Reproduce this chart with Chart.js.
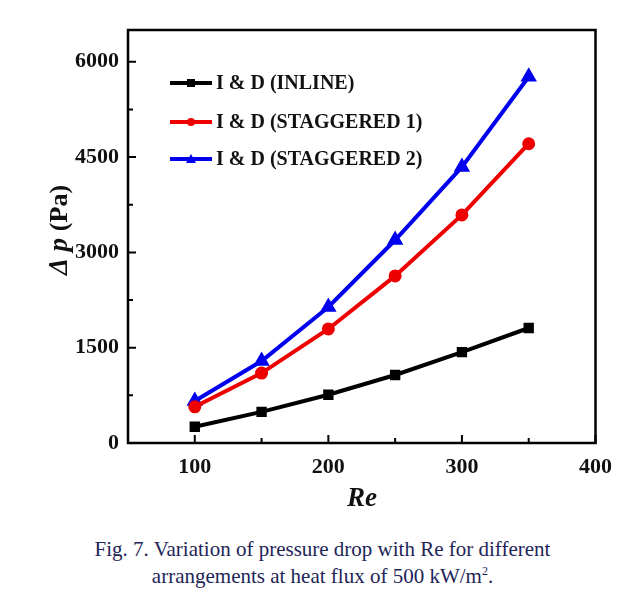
<!DOCTYPE html>
<html><head><meta charset="utf-8">
<script src="https://cdn.jsdelivr.net/npm/chart.js@4"></script>
<style>
html,body{margin:0;padding:0;background:#fff;width:623px;height:607px;overflow:hidden;}
#wrap{position:absolute;left:0;top:0;width:623px;height:525px;}
#cap{position:absolute;left:0;top:536px;width:645px;text-align:center;font-family:"Liberation Serif","Times New Roman",serif;font-size:21px;line-height:27px;color:#1e2558;}
sup{font-size:12px;line-height:0;vertical-align:8px;}
</style></head>
<body>
<div id="wrap"><canvas id="c" width="623" height="525"></canvas></div>
<div id="cap">Fig. 7. Variation of pressure drop with Re for different<br>arrangements at heat flux of 500 kW/m<sup>2</sup>.</div>
<script>
const reValues = [100, 150, 200, 250, 300, 350];
const inline = [255, 490, 760, 1070, 1430, 1810];
const staggered1 = [570, 1100, 1795, 2630, 3590, 4710];
const staggered2 = [660, 1290, 2140, 3195, 4345, 5765];
const seriesLabels = ['I & D (INLINE)', 'I & D (STAGGERED 1)', 'I & D (STAGGERED 2)'];
const xMajor = [100, 200, 300, 400];
const xMinor = [50, 150, 250, 350];
const yMajor = [0, 1500, 3000, 4500, 6000];
const yMinor = [750, 2250, 3750, 5250];

const serif = '"Liberation Serif","Times New Roman",serif';
const toPts = arr => arr.map((v, i) => ({x: reValues[i], y: v}));

const framePlugin = {
  id: 'frame',
  afterDraw(chart) {
    const {ctx, chartArea: a, scales: {x, y}} = chart;
    ctx.save();
    ctx.strokeStyle = '#000';
    ctx.lineWidth = 2.5;
    ctx.strokeRect(a.left, a.top, a.right - a.left, a.bottom - a.top);
    ctx.lineWidth = 2;
    ctx.beginPath();
    xMajor.forEach(v => { const p = x.getPixelForValue(v); ctx.moveTo(p, a.bottom); ctx.lineTo(p, a.bottom - 8); });
    xMinor.forEach(v => { const p = x.getPixelForValue(v); if (p > a.left + 2) { ctx.moveTo(p, a.bottom); ctx.lineTo(p, a.bottom - 5); } });
    yMajor.forEach(v => { const p = y.getPixelForValue(v); ctx.moveTo(a.left, p); ctx.lineTo(a.left + 8, p); });
    yMinor.forEach(v => { const p = y.getPixelForValue(v); ctx.moveTo(a.left, p); ctx.lineTo(a.left + 5, p); });
    ctx.stroke();

    // y title
    ctx.save();
    ctx.translate(60, 230);
    ctx.rotate(-Math.PI / 2);
    ctx.fillStyle = '#111';
    ctx.textBaseline = 'middle';
    const parts = [['italic bold 27px ' + serif, '\u0394 '], ['italic bold 27px ' + serif, 'p '], ['bold 26px ' + serif, '(Pa)']];
    let w = 0;
    parts.forEach(p => { ctx.font = p[0]; w += ctx.measureText(p[1]).width; });
    let cx = -w / 2;
    parts.forEach(p => { ctx.font = p[0]; ctx.textAlign = 'left'; ctx.fillText(p[1], cx, 0); cx += ctx.measureText(p[1]).width; });
    ctx.restore();

    // x title
    ctx.fillStyle = '#111';
    ctx.font = 'italic bold 27px ' + serif;
    ctx.textAlign = 'center';
    ctx.textBaseline = 'middle';
    ctx.fillText('Re', 362, 499);

    // legend
    const rows = [83, 122, 159];
    chart.data.datasets.forEach((ds, i) => {
      const yy = rows[i];
      ctx.strokeStyle = ds.borderColor;
      ctx.lineWidth = 4;
      ctx.beginPath(); ctx.moveTo(170, yy); ctx.lineTo(212, yy); ctx.stroke();
      ctx.fillStyle = ds.borderColor;
      const mx = 191;
      if (ds.pointStyle === 'rect') ctx.fillRect(mx - 4, yy - 4, 8, 8);
      else if (ds.pointStyle === 'circle') { ctx.beginPath(); ctx.arc(mx, yy, 4, 0, Math.PI * 2); ctx.fill(); }
      else { ctx.beginPath(); ctx.moveTo(mx, yy - 5); ctx.lineTo(mx + 5, yy + 4); ctx.lineTo(mx - 5, yy + 4); ctx.closePath(); ctx.fill(); }
      ctx.fillStyle = '#111';
      ctx.font = 'bold 20px ' + serif;
      ctx.textAlign = 'left';
      ctx.fillText(ds.label, 216, yy + 1);
    });
    ctx.restore();
  }
};

new Chart(document.getElementById('c'), {
  type: 'line',
  data: {
    datasets: [
      {label: seriesLabels[0], data: toPts(inline), borderColor: '#000000', backgroundColor: '#000000', pointStyle: 'rect', pointRadius: 4.5, borderWidth: 4},
      {label: seriesLabels[1], data: toPts(staggered1), borderColor: '#ee0000', backgroundColor: '#ee0000', pointStyle: 'circle', pointRadius: 4.5, borderWidth: 4},
      {label: seriesLabels[2], data: toPts(staggered2), borderColor: '#0000ee', backgroundColor: '#0000ee', pointStyle: 'triangle', pointRadius: 5.5, borderWidth: 4}
    ]
  },
  options: {
    responsive: false,
    animation: false,
    layout: {padding: {left: 0, right: 27, top: 30, bottom: 0}},
    plugins: {legend: {display: false}, tooltip: {enabled: false}},
    scales: {
      x: {
        type: 'linear', min: 50, max: 400,
        afterBuildTicks: s => { s.ticks = xMajor.map(v => ({value: v})); },
        afterFit: s => { s.height = 82; },
        grid: {display: false, drawTicks: false},
        border: {display: false},
        ticks: {padding: 11, color: '#111', font: {family: serif, size: 22, weight: 'bold'}, callback: v => String(v)}
      },
      y: {
        type: 'linear', min: 0, max: 6500,
        afterBuildTicks: s => { s.ticks = yMajor.map(v => ({value: v})); },
        afterFit: s => { s.width = 128; },
        grid: {display: false, drawTicks: false},
        border: {display: false},
        ticks: {padding: 9, color: '#111', font: {family: serif, size: 22, weight: 'bold'}, callback: v => String(v)}
      }
    }
  },
  plugins: [framePlugin]
});
</script>
</body></html>
